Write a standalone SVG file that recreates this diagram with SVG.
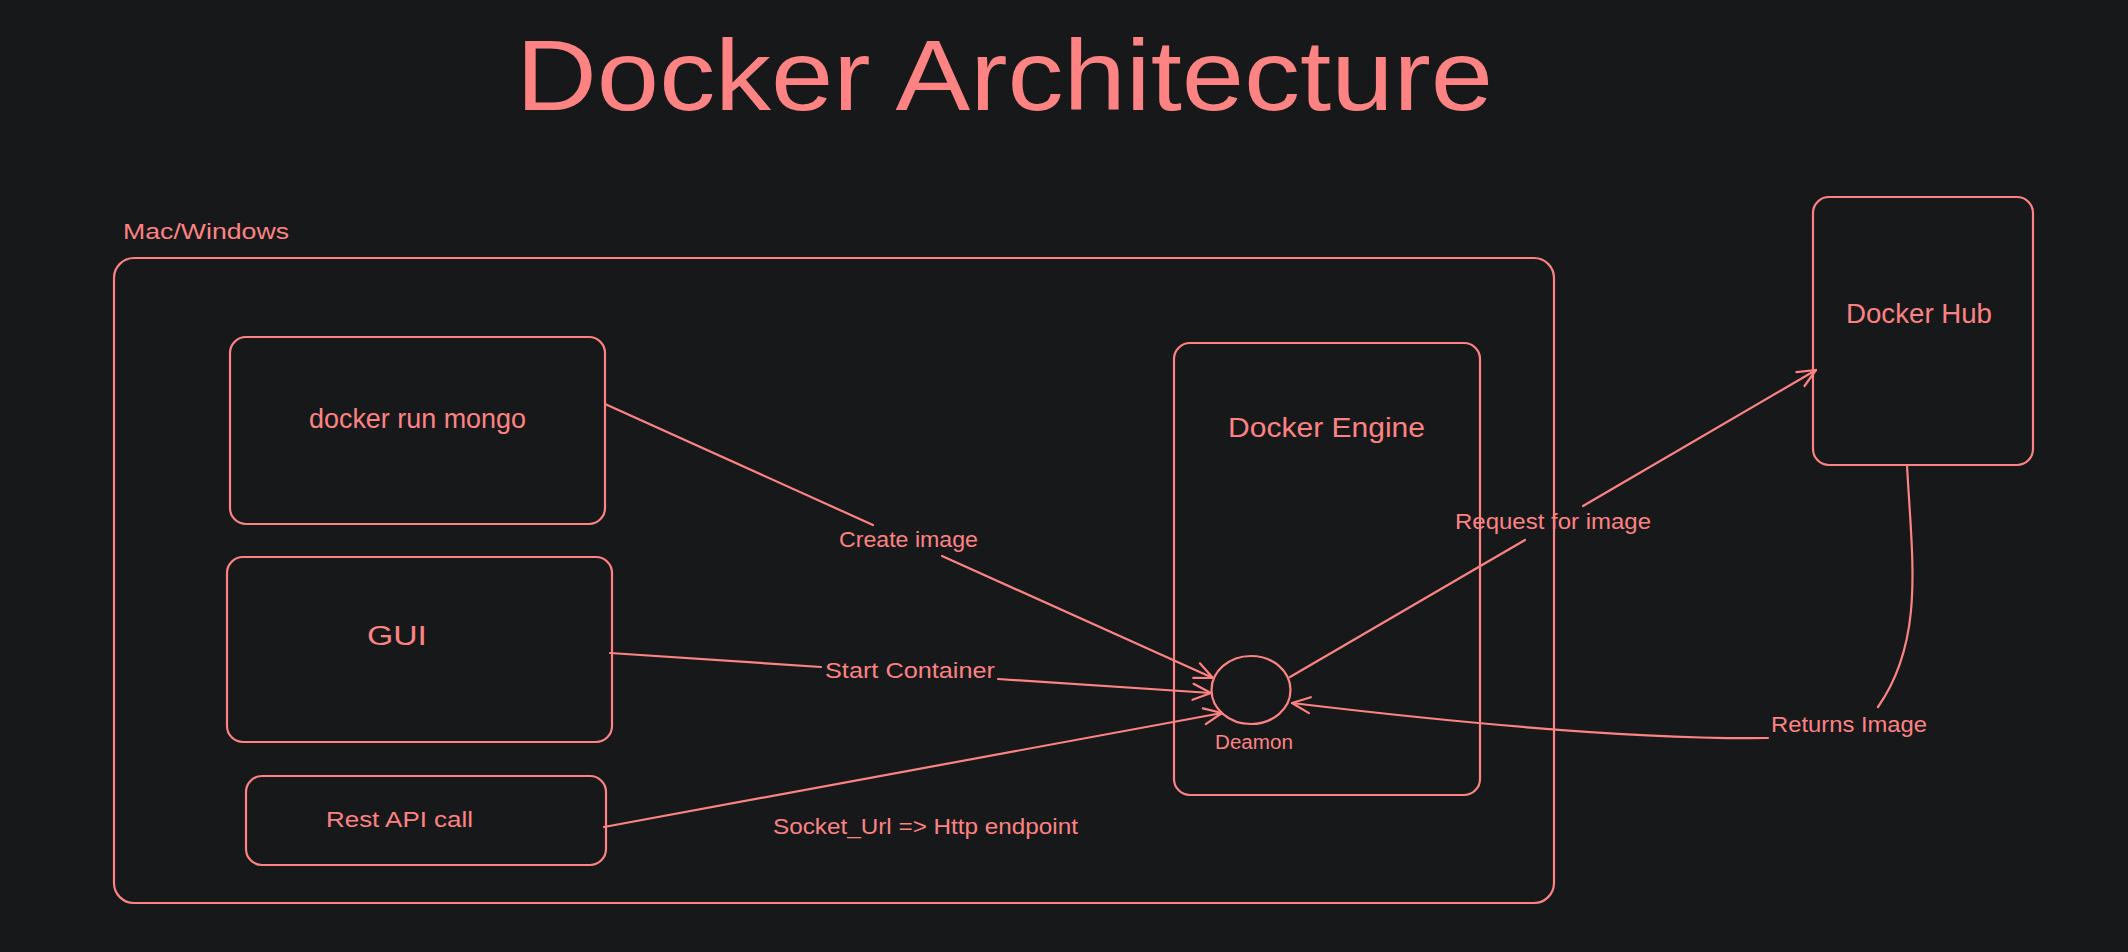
<svg xmlns="http://www.w3.org/2000/svg" width="2128" height="952" viewBox="0 0 2128 952">
  <defs>
    <style>
      .box { fill: none; stroke: #ff8383; stroke-width: 2.2; }
      .edge { fill: none; stroke: #ff8383; stroke-width: 2.2; stroke-linecap: round; }
      text { fill: #ff8383; font-family: "Liberation Sans", Arial, sans-serif; }
      .title { font-size: 100px; }
      .lbl { font-size: 22px; }
      .node { font-size: 27px; }
    </style>
    <marker id="arrow" viewBox="0 0 22 20" refX="20" refY="10" markerWidth="22" markerHeight="20" markerUnits="userSpaceOnUse" orient="auto">
      <path d="M2,2 L20,10 L2,18" fill="none" stroke="#ff8383" stroke-width="2.2" stroke-linecap="round" stroke-linejoin="round"/>
    </marker>
  </defs>
  <rect x="0" y="0" width="2128" height="952" fill="#17181a"/>

  <g id="title">
    <text class="title" x="516" y="110" textLength="977" lengthAdjust="spacingAndGlyphs">Docker Architecture</text>
  </g>

  <g id="host">
    <text class="lbl" x="123" y="239" textLength="166" lengthAdjust="spacingAndGlyphs">Mac/Windows</text>
    <rect class="box" x="114" y="258" width="1440" height="645" rx="20"/>
  </g>

  <g id="docker-run-mongo">
    <rect class="box" x="230" y="337" width="375" height="187" rx="16"/>
    <text class="node" x="309" y="428" textLength="217" lengthAdjust="spacingAndGlyphs">docker run mongo</text>
  </g>

  <g id="gui">
    <rect class="box" x="227" y="557" width="385" height="185" rx="16"/>
    <text class="node" x="367" y="645" textLength="60" lengthAdjust="spacingAndGlyphs">GUI</text>
  </g>

  <g id="rest-api">
    <rect class="box" x="246" y="776" width="360" height="89" rx="16"/>
    <text class="lbl" x="326" y="827" textLength="147" lengthAdjust="spacingAndGlyphs">Rest API call</text>
  </g>

  <g id="docker-engine">
    <rect class="box" x="1174" y="343" width="306" height="452" rx="16"/>
    <text class="node" x="1228" y="437" textLength="197" lengthAdjust="spacingAndGlyphs">Docker Engine</text>
  </g>

  <g id="deamon">
    <ellipse class="box" cx="1251" cy="690" rx="39.5" ry="34"/>
    <text style="font-size:20px" x="1215" y="749" textLength="78" lengthAdjust="spacingAndGlyphs">Deamon</text>
  </g>

  <g id="docker-hub">
    <rect class="box" x="1813" y="197" width="220" height="268" rx="16"/>
    <text class="node" x="1846" y="323" textLength="146" lengthAdjust="spacingAndGlyphs">Docker Hub</text>
  </g>

  <g id="connectors">
    <!-- Create image -->
    <path class="edge" d="M605,404 L873,525"/>
    <path class="edge" d="M942,556 L1213,678" marker-end="url(#arrow)"/>
    <text class="lbl" x="839" y="547" textLength="139" lengthAdjust="spacingAndGlyphs">Create image</text>

    <!-- Start Container -->
    <path class="edge" d="M610,653 L821,667"/>
    <path class="edge" d="M998,679 L1211,693" marker-end="url(#arrow)"/>
    <text class="lbl" x="825" y="678" textLength="170" lengthAdjust="spacingAndGlyphs">Start Container</text>

    <!-- Rest API call -->
    <path class="edge" d="M604,827 L1222,713" marker-end="url(#arrow)"/>
    <text class="lbl" x="773" y="834" textLength="305" lengthAdjust="spacingAndGlyphs">Socket_Url =&gt; Http endpoint</text>

    <!-- Request for image -->
    <path class="edge" d="M1290,677 L1525,540"/>
    <path class="edge" d="M1583,506 L1816,370" marker-end="url(#arrow)"/>
    <text class="lbl" x="1455" y="529" textLength="196" lengthAdjust="spacingAndGlyphs">Request for image</text>

    <!-- Returns Image -->
    <path class="edge" d="M1907,465 C1912,560 1925,640 1878,707"/>
    <path class="edge" d="M1768,738 Q1600,740 1292,703" marker-end="url(#arrow)"/>
    <text class="lbl" x="1771" y="732" textLength="156" lengthAdjust="spacingAndGlyphs">Returns Image</text>
  </g>
</svg>
